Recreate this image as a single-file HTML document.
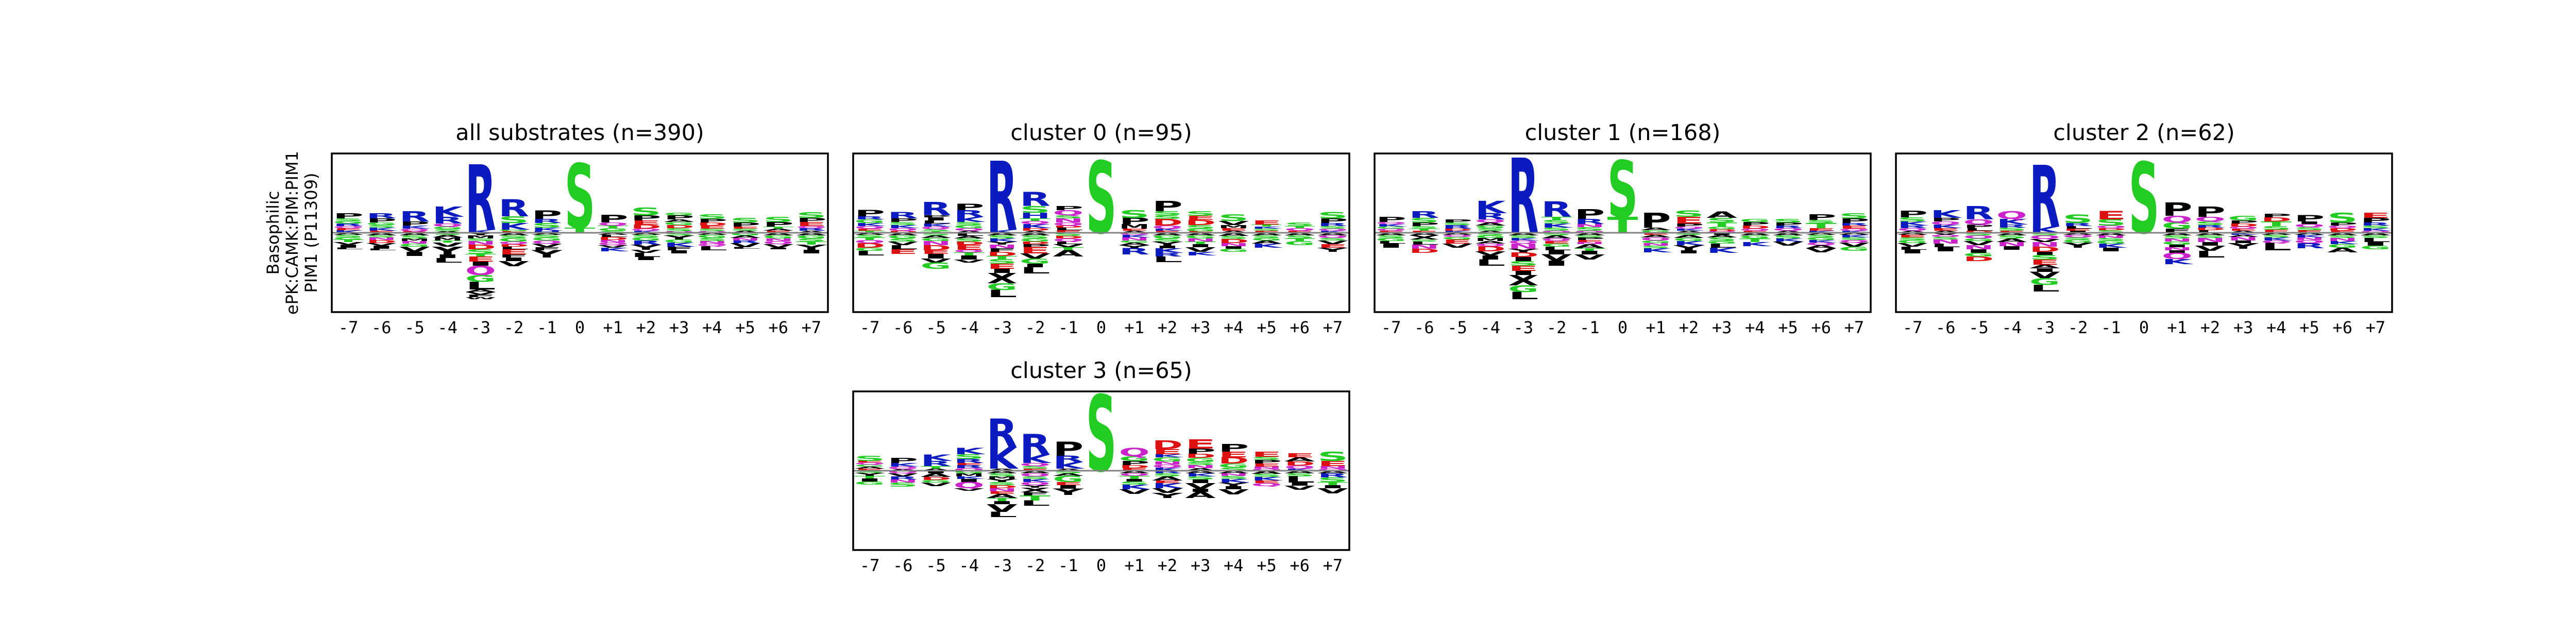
<!DOCTYPE html>
<html><head><meta charset="utf-8"><title>Basophilic PIM1 logos</title>
<style>html,body{margin:0;padding:0;background:#fff;}svg{display:block;}</style></head>
<body>
<svg id="fig" xmlns="http://www.w3.org/2000/svg" width="5163" height="1200" viewBox="0 0 5163 1200">
<rect width="5163" height="1200" fill="#fff"/>
<g font-family="DejaVu Sans, Liberation Sans, sans-serif" font-size="32" fill="#000" text-anchor="middle">
<text transform="translate(541,452) rotate(-90)">Basophilic</text>
<text transform="translate(578,452) rotate(-90)">ePK:CAMK:PIM:PIM1</text>
<text transform="translate(615,452) rotate(-90)">PIM1 (P11309)</text>
</g>
</svg>
<script>
const positions = ["-7","-6","-5","-4","-3","-2","-1","0","+1","+2","+3","+4","+5","+6","+7"];
const panelTitles = ["all substrates (n=390)","cluster 0 (n=95)","cluster 1 (n=168)","cluster 2 (n=62)","cluster 3 (n=65)"];
const panelNames = ["all-substrates","cluster-0","cluster-1","cluster-2","cluster-3"];

const posAll = ["K.5 E.4 Q.4 R.5 G.5 S.5 P1","E.4 K.6 S.5 G.5 P.8 R1","E.3 Q.5 K.6 P.8 R2","A.3 S.4 G.5 Q.6 R1.3 K2","K.6 R12.7","E.3 G.3 K1.3 S1.3 R3.3","H.4 K.6 S.9 R.8 P1.6","T1 S12.5","S.4 G.5 T.5 Q.6 P1.5","K.4 Q.4 D.8 E.8 P1 S1.5","Q.3 S.6 D.6 G.6 A.5 P.8 G.5","Q.3 S.5 E.6 D.6 P.7 S.9","A.4 S.4 E.4 P.8 S.9","E.4 A.4 T.4 P.9 S1","A.4 R.5 Q.4 E.8 P.8 S1.1"];
const negAll = ["A.4 S.5 G.4 T.5 V.5 I.6 L.3","A.5 S.4 N.5 D.6 V.5 I.6 L.3","A.5 S.6 M.5 N.5 G.6 V1 I.8","S.4 A.5 M.6 T.4 V.8 Y1.5 I.7 L.9","Y.5 M.6 S.5 N.7 D.9 S.9 T.5 E1 I.8 Q1.8 G1.3 L1.5 A.5 V.5 F.5 W.4","A.5 S.5 G.7 Q.5 D.5 L.5 E1 F.6 I.7 V1","A.4 S.5 G.6 Q.6 V.7 F.6 Y1.4","","A.4 L.4 D.6 N.5 Q.5 V.5 K.7","A.4 S.5 G.6 R.8 Y1 V.6 L.8 I.6","S.5 Y.8 G.6 K.8 F.7 I.6","A.4 G.6 S.6 N.5 Q.5 L.8","G.5 A.5 N.5 R.5 V.8 L.3","A.5 G.6 N.5 Q.6 V.7 I.3","A.5 G.6 S.6 T.6 Y1 I.7"];

const posC0 = ["T.4 E.4 Q.5 K.6 G.7 R.6 P1.2","D.4 Q.5 K.6 S.6 P.7 R1.2","T.3 S.4 Q.5 K.6 L.6 I.6 P.4 R2.6","A.4 Q.5 G.6 S.6 K1 R1.3 P1.2","K.6 R13.4","A.4 D.5 K.8 Q.6 T.5 H1.1 S1.3 R2.7","E.5 L.5 D.4 Q.6 N.8 S.6 Q1 P.8","S14","A.4 E.4 M.9 P1.2 S1.5","E.4 K.4 Q.6 D1.3 S.7 S.8 P2","E.3 G.5 S.7 D1 E.8 S.9","A.4 E.5 M.6 V.8 S1.3","E.4 S.4 K.4 T.4 E.8","E.4 Q.5 T.4 S.7","K.4 Q.4 S.5 R.6 P.9 S1.2"];
const negC0 = ["A.4 S.5 T.5 Q.6 D.9 G.6 L.9","A.5 G.6 S.6 V.7 L.8 E.9","S.5 A.5 G.6 N.8 D1 E.7 I.9 V.8 G1.2","L.6 A.5 S.6 D.6 E1 Q.5 T.6 I.8 V.6","A.5 S.6 K.6 Y.6 N.7 F.7 D.8 T.6 S.9 E1 I.8 X2 G1.3 L1.4","A.5 S.6 G.6 D.5 P.6 E1.2 V1 G1 I.7 L1.2","S.6 D.5 Q.6 L.5 V.6 T.6 A1.2","","Q.4 K.5 N.6 G.4 A.5 Y.6 R1.2","A.5 G.6 S.6 Y.8 I.5 K.9 R.7 L1.1","A.5 G.6 N.6 T.5 I.6 V.9 K.7","A.6 S.6 D.8 N.6 I.5 G.6","A.5 S.5 G.5 A.6 K.8","A.5 S.6 T.5 G.8","A.5 Q.5 S.5 V.7 E.7 Y.8"];

const posC1 = ["E.4 Q.4 G.4 K.5 Q.4 P1","E.4 T.4 S.5 P.7 S.9 R1.3","K.4 D.4 R.7 S.5 P.6","A.4 S.5 G.5 A.6 Q.6 R1.2 K2.4","R14.6","Q.4 S.6 K.8 S.7 T.6 R3","Q.4 S.7 N.6 R1 P1.9","T3.1 S11","G.5 A.5 P2.9","A.4 K.4 Q.4 P.6 E1.3 S1.2","Q.3 D.4 G.5 T.8 S.9 A1.2","E.4 Q.4 D.6 P.7 G.6","A.4 Q.5 R.5 P.6 S.7","K.4 E.5 T1 S.6 P1.1","K.4 Q.4 E.6 R.5 P.9 S1"];
const negC1 = ["A.5 S.5 G.6 L.5 I.8","A.5 X.8 S.4 L.6 N.8 D.8","A.4 Q.4 G.5 E.8 V.8","S.5 G.5 M.6 A.5 Q.5 D1 V.8 I.8 L1.2","A.5 S.5 K.5 Q.6 N1 Y.7 D.9 I.8 S.9 E1 I.8 X2 G1.3 L1.4","S.5 A.6 Q.5 E.5 G.6 L.7 I.8 V1.2 I1","A.5 S.4 P.5 E.4 N.4 A.8 T.5 I.7 V1","","E.4 A.5 Q.6 G.5 N.5 S.5 K.8","S.4 A.6 G.6 K.8 Y1 I.6","I.4 A.5 S.7 G.5 L.8 K1","A.5 G.6 T.7 K.8","A.5 S.6 K.6 V.8","A.4 S.5 G.5 K.5 Q.5 A.6 V.8","A.4 K.5 S.5 Q.5 V.8 G.8"];

const posC2 = ["A.4 Q.5 R.5 K.8 S.8 P1.3","A.4 E.5 K.7 Q.6 P.7 K1.5","D.4 L.5 P.7 Q1 R2.6","E.4 S.6 R.6 K1.1 Q1.5","K1.2 R12","I.4 E.4 L.5 R.6 S1.6","S.5 D.4 Q.5 S1.2 E1.6","S13.8","F.8 G1.2 Q1.3 P2.6","L.5 D.5 R.5 S.7 Q.9 P2","A.4 E.4 Q.4 D.6 P.6 G.9","E.6 S.7 T.9 D.8 P.7","E.5 S.6 Q.6 I.5 P1.2","E.4 D.5 Q.5 P.6 S1.9","Q.4 K.5 S.5 R.6 P.9 E1"];
const negC2 = ["A.4 E.5 S.5 G.6 V.7 L.6 I.7","V.4 Q.4 S.5 N.8 L.7 I.8","S.5 Q.6 G.5 V.8 N.8 I.7 G.7 D.9","A.5 S.6 A.7 N.8 I.7","S.5 Q.7 V.6 N.9 D1 I.6 S.9 E1 A.7 I.7 V1.2 G1.3 L1.3","A.4 Q.5 S.4 G.6 Y1","A.5 N.5 S.5 G.6 K.8 I.7","","A.5 S.6 N.6 G.6 I.5 N.6 I.5 Q1.2 K1","A.5 S.5 N.8 I.7 V1 L1.3","K.4 A.4 N.7 I.5 Y1.1","A.4 S.5 K.6 Q.5 L1.4","A.4 K.5 N.5 Q.6 R1","A.5 S.5 N.6 K.6 G.7 A.9","A.5 S.5 L.8 I.7 G.7"];

const posC3 = ["E.4 A.4 G.4 Q.4 E.3 S1","A.3 Q.5 K.7 P1","A.4 T.5 R1 K1.2","Q.5 R.6 E.4 R.8 S.9 K1.2","A.4 K4.2 R5.5","E.4 S.5 Q.6 K1.6 R4","A.4 K1.3 R1.2 P2.7","S14.8","E.5 D.6 P.8 G.9 Q1.6","K.6 Q.6 N.6 G.8 K.6 E1 D1.7","A.5 N.6 S.6 G.8 D.8 P1 E1.8","S.6 G.8 D1.2 E1.1 P1.5","Q.4 N.4 E.6 P.7 S.6 E1","K.4 Q.6 D.8 A.8 E.8","Q.4 N.5 E1 S1.8"];
const negC3 = ["S.4 Y.6 T.5 I.6 G.6","Q.5 V.6 R.6 N.6 S.8","I.5 A.7 D.6 G.5 V.7","G.5 M.6 K.5 I.6 Q1.2 V.5","A.5 S.6 M.5 Y.6 S.6 D.6 N.6 E.5 A.8 T.6 I.6 V1.5 L1","A.5 Q.6 S.5 K.6 Q.6 Y.5 X.9 F.6 T1 L1","S.5 A.5 G1.2 E.6 I.7 Y1.2","","A.5 Q.5 T.6 I.5 S.6 K.9 V.9","R.5 S.6 A.8 E.5 K1 V.9 Y1","A.5 K.6 S.6 I.7 V1.1 I.6 A1.2","A.5 N.5 S.6 K.7 Y.7 I.6 V1","A.6 S.6 K.7 E.5 Q.6","A.5 S.6 L1.2 I.6 V.8","A.5 R.8 S.9 T.6 I.6 V1"];

const panelPos = [posAll, posC0, posC1, posC2, posC3];
const panelNeg = [negAll, negC0, negC1, negC2, negC3];

const NS = "http://www.w3.org/2000/svg";
const svg = document.getElementById("fig");
const boxW = 963, boxH = 308, unitPx = 10;
const boxLefts = [644, 1656, 2668, 3680, 1656];
const boxTops = [298, 298, 298, 298, 760];
const colW = boxW / positions.length;
function colorOf(c){
  if ("RKH".includes(c)) return "#0b1bbf";
  if ("STGC".includes(c)) return "#22cc22";
  if ("DE".includes(c)) return "#dd1111";
  if ("QN".includes(c)) return "#cc22cc";
  return "#000000";
}
function parseStack(s){ return s.trim() ? s.trim().split(/\s+/).map(t => [t[0], parseFloat(t.slice(1))]) : []; }
function xScale(i, left){ return left + i * colW; }
function yScale(v, top){ return top + boxH/2 - v * unitPx; }

function drawLetter(g, ch, x, yBottom, hPx){
  if (hPx <= 0.5) return;
  const t = document.createElementNS(NS, "text");
  
  
  t.setAttribute("x", 0); t.setAttribute("y", 0);
  t.setAttribute("font-family", "DejaVu Sans, Liberation Sans, sans-serif");
  t.setAttribute("font-weight", "bold");
  t.setAttribute("font-size", "100");
  t.setAttribute("fill", colorOf(ch));
  t.textContent = ch;
  g.appendChild(t);
  let adv = 70;
  try { adv = t.getComputedTextLength() || 70; } catch(e){}
  const sx = (colW * 0.93) / adv, sy = hPx / 72.9;
  t.setAttribute("transform", "translate(" + (x + colW*0.035) + "," + yBottom + ") scale(" + sx + "," + sy + ")");
}

for (let p = 0; p < 5; p++){
  const left = boxLefts[p], top = boxTops[p];
  const g = document.createElementNS(NS, "g");
  
  
  svg.appendChild(g);
  const title = document.createElementNS(NS, "text");
  
  
  title.setAttribute("x", left + boxW/2); title.setAttribute("y", top - 26);
  title.setAttribute("text-anchor", "middle");
  title.setAttribute("font-family", "DejaVu Sans, Liberation Sans, sans-serif");
  title.setAttribute("font-size", "43");
  title.textContent = panelTitles[p];
  g.appendChild(title);
  const clip = document.createElementNS(NS, "clipPath");
  clip.setAttribute("id", "clip" + p);
  const cr = document.createElementNS(NS, "rect");
  cr.setAttribute("x", left); cr.setAttribute("y", top); cr.setAttribute("width", boxW); cr.setAttribute("height", boxH);
  clip.appendChild(cr); g.appendChild(clip);
  const lg = document.createElementNS(NS, "g");
  
  
  lg.setAttribute("clip-path", "url(#clip" + p + ")");
  g.appendChild(lg);
  for (let i = 0; i < positions.length; i++){
    const x = xScale(i, left);
    let acc = 0;
    for (const [ch, v] of parseStack(panelPos[p][i])){
      drawLetter(lg, ch, x, yScale(acc, top), v * unitPx);
      acc += v;
    }
    acc = 0;
    for (const [ch, v] of parseStack(panelNeg[p][i])){
      acc -= v;
      drawLetter(lg, ch, x, yScale(acc, top), v * unitPx);
    }
    const tl = document.createElementNS(NS, "text");
    
    
    tl.setAttribute("x", x + colW/2); tl.setAttribute("y", top + boxH + 41);
    tl.setAttribute("text-anchor", "middle");
    tl.setAttribute("font-family", "DejaVu Sans Mono, Liberation Mono, monospace");
    tl.setAttribute("font-size", "32");
    tl.textContent = positions[i];
    g.appendChild(tl);
  }
  const zl = document.createElementNS(NS, "line");
  
  
  zl.setAttribute("x1", left); zl.setAttribute("x2", left + boxW);
  zl.setAttribute("y1", yScale(0, top)); zl.setAttribute("y2", yScale(0, top));
  zl.setAttribute("stroke", "#808080"); zl.setAttribute("stroke-width", "3");
  g.appendChild(zl);
  const box = document.createElementNS(NS, "rect");
  
  
  box.setAttribute("x", left); box.setAttribute("y", top);
  box.setAttribute("width", boxW); box.setAttribute("height", boxH);
  box.setAttribute("fill", "none"); box.setAttribute("stroke", "#000"); box.setAttribute("stroke-width", "3.5");
  g.appendChild(box);
}
</script>
</body></html>
